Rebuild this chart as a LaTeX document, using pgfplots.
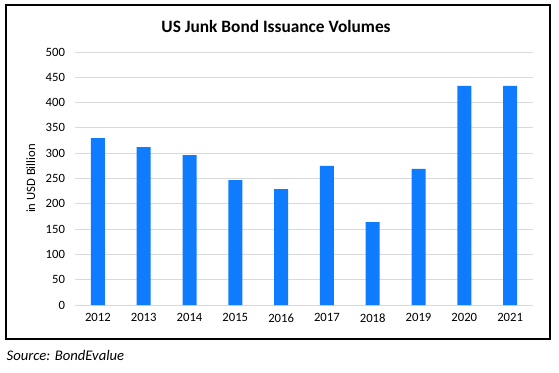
\documentclass[border=0pt]{standalone}
\usepackage{pgfplots}
\pgfplotsset{compat=1.18}
\usepackage{fontspec}
\setmainfont{Carlito}
\definecolor{barblue}{HTML}{0F7BFF}
\definecolor{gridgray}{HTML}{D9D9D9}
\begin{document}
\begin{tikzpicture}[x=1pt,y=1pt]
\path[use as bounding box] (0,0) rectangle (419.25,279);
\draw[black, line width=1pt] (4.5,24.75) rectangle (412.5,275.25);
\node[font=\fontsize{13}{15}\selectfont\bfseries] at (207,259.5) {US Junk Bond Issuance Volumes};
\node[font=\fontsize{11}{13}\selectfont\itshape, anchor=west] at (1.5,12.5) {Source: BondEvalue};
\begin{axis}[
  at={(56.25pt,50.25pt)}, anchor=south west,
  scale only axis, width=343.5pt, height=189.75pt,
  xmin=-0.5, xmax=9.5, ymin=0, ymax=500,
  ytick={0,50,...,500},
  xtick={0,...,9},
  xticklabels={2012,2013,2014,2015,2016,2017,2018,2019,2020,2021},
  ymajorgrids, grid style={gridgray, line width=0.75pt},
  axis line style={draw=none},
  major tick style={draw=none},
  tick label style={font=\fontsize{9.5}{11}\selectfont},
  /pgf/number format/assume math mode=true,
  yticklabel style={xshift=-4pt},
  xticklabel style={yshift=-3pt},
  ylabel={in USD Billion},
  ylabel style={font=\fontsize{9.5}{11}\selectfont, yshift=1pt},
  clip=false,
]
\addplot[ybar, bar width=10.5pt, fill=barblue, draw=none] coordinates {
(0,330) (1,312) (2,296) (3,247) (4,229) (5,275) (6,164) (7,269) (8,433) (9,433)
};
\end{axis}
\end{tikzpicture}
\end{document}
